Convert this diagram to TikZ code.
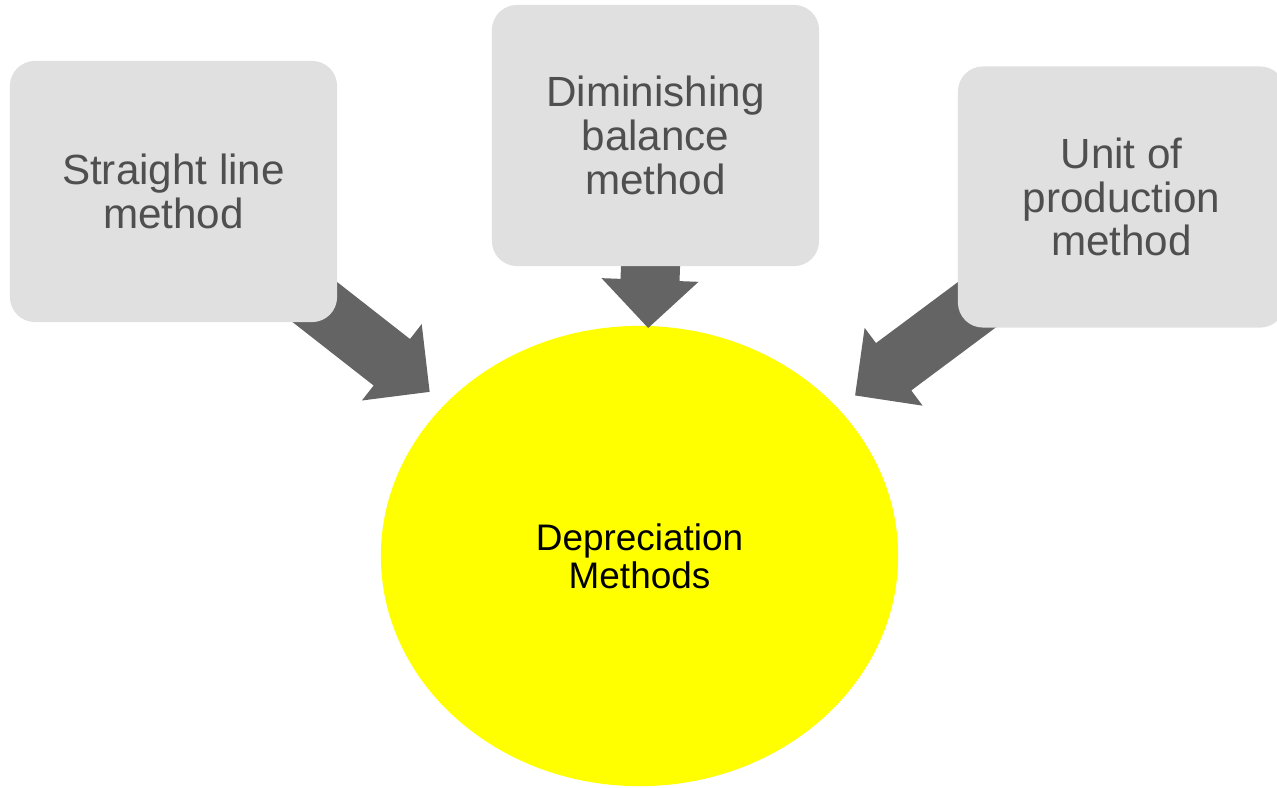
\documentclass[tikz,border=0pt]{standalone}
\usepackage{fontspec}
\setmainfont{Liberation Sans}
\usetikzlibrary{shapes.geometric,calc}
\pgfdeclarelayer{bg}
\pgfdeclarelayer{mid}
\pgfsetlayers{bg,mid,main}

\definecolor{boxgray}{HTML}{E0E0E0}
\definecolor{textgray}{HTML}{4F4F4F}
\definecolor{arrowgray}{HTML}{646464}
\definecolor{sunyellow}{HTML}{FFFF00}

\tikzset{
  methodbox/.style={rectangle, rounded corners=0.25cm, fill=boxgray,
    minimum width=3.27cm, minimum height=2.61cm, inner sep=0pt,
    align=center, text=textgray, font=\fontsize{12}{12.4}\selectfont},
  hub/.style={ellipse, fill=sunyellow, minimum width=5.17cm,
    minimum height=4.6cm, inner sep=0pt, align=center, text=black,
    font=\fontsize{10.5}{10.8}\selectfont},
}

% block arrow from box #1 toward the hub, tip at distance #2 from the box centre
\newcommand\blockarrow[2]{%
  \fill[arrowgray]
    ($(#1.center)!0.5cm!(hub.center)!0.295cm!90:(hub.center)$) --
    ($(#1.center)!#2-0.48cm!(hub.center)!0.295cm!90:(hub.center)$) --
    ($(#1.center)!#2-0.48cm!(hub.center)!0.485cm!90:(hub.center)$) --
    ($(#1.center)!#2!(hub.center)$) --
    ($(#1.center)!#2-0.48cm!(hub.center)!0.485cm!-90:(hub.center)$) --
    ($(#1.center)!#2-0.48cm!(hub.center)!0.295cm!-90:(hub.center)$) --
    ($(#1.center)!0.5cm!(hub.center)!0.295cm!-90:(hub.center)$) -- cycle;}

\begin{document}
\begin{tikzpicture}[x=0.01cm, y=-0.01cm]
  \useasboundingbox (0,0) rectangle (1277,787);
  \clip (0,0) rectangle (1277,787);

  \begin{pgfonlayer}{bg}
    \node[hub] (hub) at (639.5,556) {Depreciation\\Methods};
  \end{pgfonlayer}

  \node[methodbox] (straight) at (173.5,191.5) {Straight line\\method};
  \node[methodbox] (diminish) at (655.5,135.5) {Diminishing\\balance\\method};
  \node[methodbox] (unit) at (1121.5,197) {Unit of\\production\\method};

  \begin{pgfonlayer}{mid}
    \blockarrow{straight}{3.25cm}
    \blockarrow{diminish}{1.925cm}
    \blockarrow{unit}{3.32cm}
  \end{pgfonlayer}
\end{tikzpicture}
\end{document}
